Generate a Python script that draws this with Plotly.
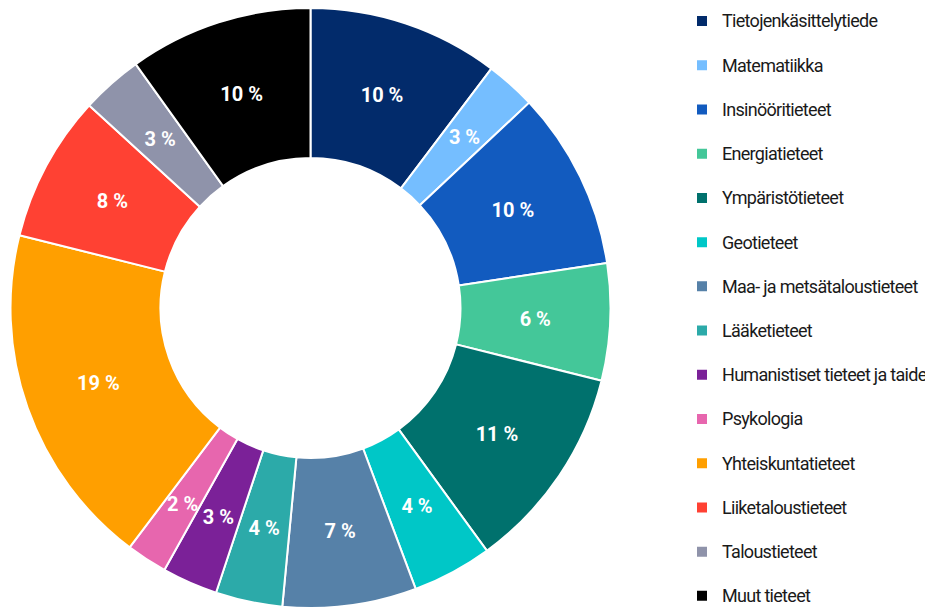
import plotly.graph_objects as go

categories = [
    "Tietojenkäsittelytiede", "Matematiikka", "Insinööritieteet", "Energiatieteet",
    "Ympäristötieteet", "Geotieteet", "Maa- ja metsätaloustieteet", "Lääketieteet",
    "Humanistiset tieteet ja taide", "Psykologia", "Yhteiskuntatieteet",
    "Liiketaloustieteet", "Taloustieteet", "Muut tieteet",
]
shares = [10.3, 2.7, 9.6, 6.3, 11.1, 4.3, 7.2, 3.6, 3.0, 2.2, 18.6, 7.9, 3.3, 9.9]
colors = [
    "#022b6b", "#75beff", "#125bbf", "#44c799", "#00716d", "#00c7c7", "#5681a8",
    "#2caaa9", "#7b2198", "#e766ae", "#ff9f00", "#ff4133", "#8f93aa", "#000000",
]

W, H = 933, 609
PAGE = 8                       # default body margin of the html page
CX = 310.5 - PAGE              # pie centre, px from left of the figure
CY = H - (308.0 - PAGE)        # pie centre, px from bottom of the figure
R_OUT = 300.0                  # outer radius in px
HOLE = 0.5
R_TXT = R_OUT * (1 + HOLE) / 2  # labels sit in the middle of the ring
TXT_HOLE = 0.8                 # thin helper ring used only to place the labels
R_HELP = R_TXT / (1 - (1 - TXT_HOLE) / 2)

FONT = "Roboto, 'Liberation Sans', sans-serif"


def dom(r):
    return dict(x=[(CX - r) / W, (CX + r) / W], y=[(CY - r) / H, (CY + r) / H])


legend_labels = [
    f'<span style="font-size:18px;letter-spacing:-0.7px;baseline-shift:6px">{c}</span>'
    for c in categories
]

fig = go.Figure()
fig.add_trace(go.Pie(
    labels=legend_labels,
    values=shares,
    sort=False,
    direction="clockwise",
    rotation=0,
    hole=HOLE,
    marker=dict(colors=colors, line=dict(color="white", width=2)),
    textinfo="none",
    domain=dom(R_OUT),
    hovertext=categories,
    hovertemplate="%{hovertext}: %{value} %<extra></extra>",
))
# value labels, placed by the pie layout of a concentric helper ring
fig.add_trace(go.Pie(
    labels=categories,
    values=shares,
    sort=False,
    direction="clockwise",
    rotation=0,
    hole=TXT_HOLE,
    marker=dict(colors=["rgba(0,0,0,0)"] * len(categories), line=dict(width=0)),
    texttemplate="<b>%{value:.0f} %</b>",
    textposition="inside",
    insidetextorientation="horizontal",
    textfont=dict(color="white", size=20, family=FONT),
    domain=dom(R_HELP),
    showlegend=False,
    hoverinfo="skip",
))

fig.update_layout(
    width=W, height=H,
    margin=dict(l=0, r=0, t=0, b=0, autoexpand=False),
    paper_bgcolor="white",
    uniformtext=dict(minsize=20, mode="show"),
    legend=dict(
        x=(701 - PAGE - 19) / W, xanchor="left",
        y=1 + 14 / H, yanchor="top",
        font=dict(size=31.7, family=FONT, color="#1a1a1a"),
        bgcolor="rgba(0,0,0,0)",
        tracegroupgap=0,
    ),
    showlegend=True,
)
try:
    fig.update_layout(legend_maxheight=700)
except Exception:
    pass

fig.write_html("out.html")
